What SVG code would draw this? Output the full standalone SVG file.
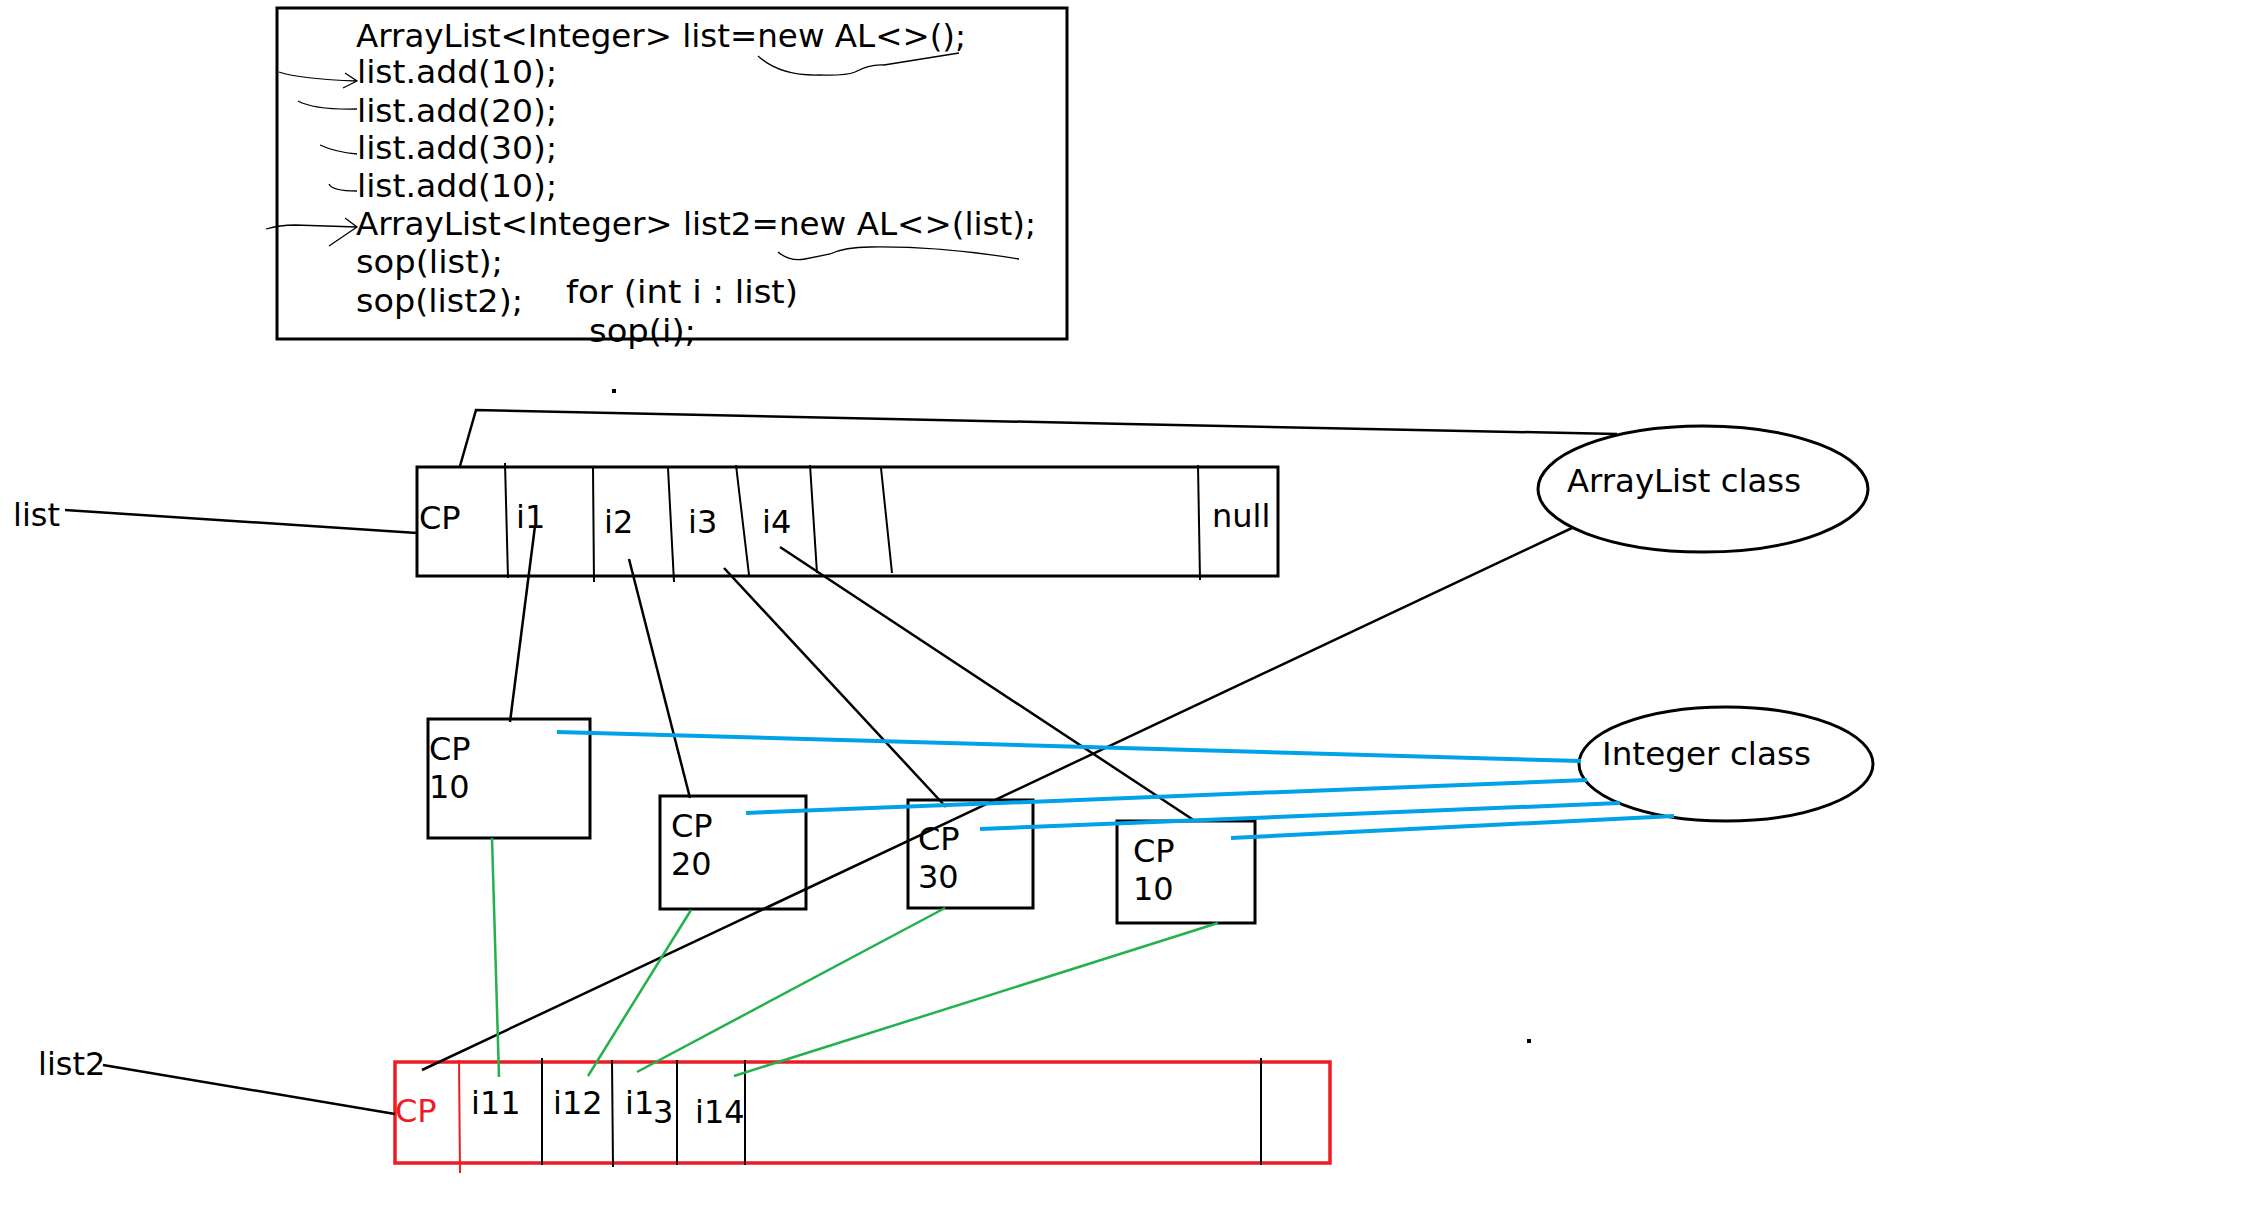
<svg xmlns="http://www.w3.org/2000/svg" width="2242" height="1206" viewBox="0 0 2242 1206">
<style>
text{font-family:"DejaVu Sans","Verdana",sans-serif;font-size:32px;fill:#000}
.box{fill:#fff;stroke:#000;stroke-width:3}
.thin{stroke:#000;stroke-width:2;fill:none}
.blk{stroke:#000;stroke-width:2.5;fill:none}
.blue{stroke:#00a2e8;stroke-width:4;fill:none}
.green{stroke:#22b14c;stroke-width:2.5;fill:none}
.hand{stroke:#000;stroke-width:1.3;fill:none}
</style>
<rect width="2242" height="1206" fill="#fff"/>

<g id="code">
<rect x="277" y="8" width="790" height="331" class="box"/>
<text x="356" y="47" textLength="610" lengthAdjust="spacingAndGlyphs">ArrayList&lt;Integer&gt; list=new AL&lt;&gt;();</text>
<text x="357" y="83" textLength="200" lengthAdjust="spacingAndGlyphs">list.add(10);</text>
<text x="357" y="122" textLength="200" lengthAdjust="spacingAndGlyphs">list.add(20);</text>
<text x="357" y="159" textLength="200" lengthAdjust="spacingAndGlyphs">list.add(30);</text>
<text x="357" y="197" textLength="200" lengthAdjust="spacingAndGlyphs">list.add(10);</text>
<text x="356" y="235" textLength="680" lengthAdjust="spacingAndGlyphs">ArrayList&lt;Integer&gt; list2=new AL&lt;&gt;(list);</text>
<text x="356" y="273" textLength="147" lengthAdjust="spacingAndGlyphs">sop(list);</text>
<text x="356" y="312" textLength="167" lengthAdjust="spacingAndGlyphs">sop(list2);</text>
<text x="566" y="303" textLength="232" lengthAdjust="spacingAndGlyphs">for (int i : list)</text>
<text x="589" y="342" textLength="107" lengthAdjust="spacingAndGlyphs">sop(i);</text>
<path class="hand" d="M279,72 Q300,79 357,81 M345,73 L357,81 L343,88"/>
<path class="hand" d="M298,101 Q315,110 357,109"/>
<path class="hand" d="M320,145 Q335,152 357,154"/>
<path class="hand" d="M329,184 Q332,191 357,191"/>
<path class="hand" d="M266,229 Q280,225 295,225 L357,227 M345,218 L357,227 L329,246"/>
<path class="hand" d="M758,56 Q780,76 819,75 Q845,76 855,72 Q870,64 884,65 L959,53"/>
<path class="hand" d="M778,252 Q790,262 805,259 Q820,256 830,254 Q845,247 870,247 Q940,246 1019,259"/>
</g>
<rect x="612" y="389" width="4" height="4" fill="#000"/>
<rect x="1527" y="1039" width="4" height="4" fill="#000"/>

<g id="list-label"><text x="13" y="526" font-size="30">list</text></g>

<g id="list-array">
<rect x="417" y="467" width="861" height="109" class="box"/>
<path class="thin" d="M505,463 L508,578 M593,468 L594,582 M668,468 L674,582 M736,465 L749,575 M810,465 L817,573 M881,468 L892,573 M1198,465 L1200,580"/>
<text x="419" y="529">CP</text>
<text x="516" y="528">i1</text>
<text x="604" y="533">i2</text>
<text x="688" y="533">i3</text>
<text x="762" y="533">i4</text>
<text x="1212" y="527">null</text>
</g>

<g id="arraylist-class">
<ellipse cx="1703" cy="489" rx="165" ry="63" fill="#fff" stroke="#000" stroke-width="3"/>
<text x="1567" y="492" textLength="234" lengthAdjust="spacingAndGlyphs">ArrayList class</text>
</g>

<g id="integer-class">
<ellipse cx="1726" cy="764" rx="147" ry="57" fill="#fff" stroke="#000" stroke-width="3"/>
<text x="1602" y="765" textLength="209" lengthAdjust="spacingAndGlyphs">Integer class</text>
</g>

<g id="obj10a">
<rect x="428" y="719" width="162" height="119" class="box"/>
<text x="429" y="760">CP</text>
<text x="429" y="798">10</text>
</g>
<g id="obj20">
<rect x="660" y="796" width="146" height="113" class="box"/>
<text x="671" y="837">CP</text>
<text x="671" y="875">20</text>
</g>
<g id="obj30">
<rect x="908" y="800" width="125" height="108" class="box"/>
<text x="918" y="850">CP</text>
<text x="918" y="888">30</text>
</g>
<g id="obj10b">
<rect x="1117" y="821" width="138" height="102" class="box"/>
<text x="1133" y="862">CP</text>
<text x="1133" y="900">10</text>
</g>

<g id="list2-label"><text x="38" y="1075" font-size="30">list2</text></g>

<g id="list2-array">
<rect x="395" y="1062" width="935" height="101" fill="none" stroke="#ed1c24" stroke-width="3.5"/>
<path d="M459,1060 L460,1173" stroke="#ed1c24" stroke-width="2"/>
<path class="thin" d="M542,1058 L542,1165 M612,1060 L613,1167 M677,1060 L677,1165 M745,1060 L745,1165 M1261,1058 L1261,1165"/>
<text x="395" y="1122" style="fill:#ed1c24">CP</text>
<text x="471" y="1114">i11</text>
<text x="553" y="1114">i12</text>
<text x="625" y="1114">i1</text>
<text x="653" y="1123">3</text>
<text x="695" y="1123">i14</text>
</g>

<g id="connectors">
<path class="blk" d="M65,510 L417,533"/>
<path class="blk" d="M103,1065 L395,1114"/>
<path class="blk" d="M460,466 L476,410 L1127,424 L1617,434"/>
<path class="blk" d="M1572,528 L422,1070"/>
<path class="blk" d="M535,526 L510,722"/>
<path class="blk" d="M629,559 L690,798"/>
<path class="blk" d="M724,568 L946,807"/>
<path class="blk" d="M780,547 L1195,821"/>
<path class="blue" d="M557,732 L1581,761"/>
<path class="blue" d="M746,813 L1587,780"/>
<path class="blue" d="M980,829 L1620,803"/>
<path class="blue" d="M1231,838 L1674,816"/>
<path class="green" d="M492,838 L499,1077"/>
<path class="green" d="M691,910 L588,1076"/>
<path class="green" d="M945,908 L637,1072"/>
<path class="green" d="M1218,923 L734,1076"/>
</g>
</svg>
